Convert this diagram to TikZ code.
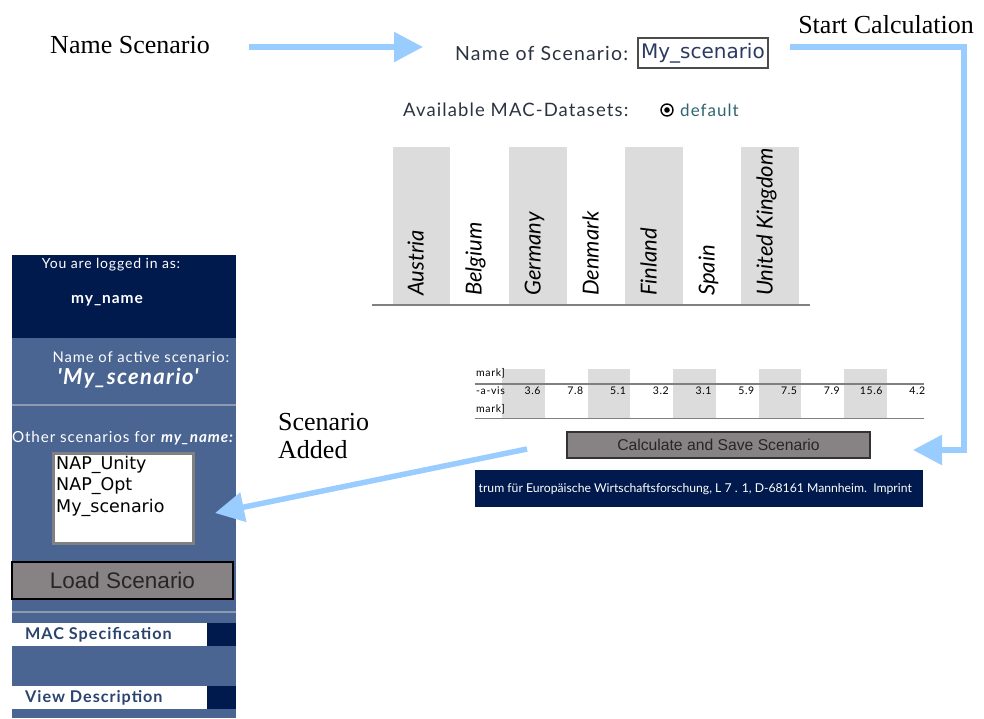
\documentclass[tikz,border=0pt]{standalone}
\usepackage{fontspec}
\setmainfont{Liberation Serif}
\newfontfamily\gill{Lato}[LetterSpace=6.0]
\newfontfamily\gillc{Lato}
\newfontfamily\arialf{Liberation Sans}
\newfontfamily\dejavu{DejaVu Sans}
\usetikzlibrary{arrows.meta}
\definecolor{arrowblue}{HTML}{99CCFF}
\definecolor{navy}{HTML}{001A4D}
\definecolor{panelblue}{HTML}{4A6592}
\definecolor{sepgray}{HTML}{8E9AB0}
\definecolor{colgray}{HTML}{DCDCDC}
\definecolor{btngray}{HTML}{878283}
\definecolor{txtdark}{HTML}{2B3340}
\definecolor{tealtxt}{HTML}{2E6470}
\definecolor{macblue}{HTML}{2A4470}
\definecolor{fieldtxt}{HTML}{2A3A60}
\tikzset{
  bigarrow/.style={draw=arrowblue, line width=5.5pt, line join=miter, -{Triangle[length=29pt,width=29pt]}},
  serifl/.style={font=\fontsize{26}{28}\selectfont, inner sep=0pt},
  shot/.style={font=\gill\fontsize{18.5}{20}\selectfont, text=txtdark, inner sep=0pt},
  paneltxt/.style={font=\gill\fontsize{14}{16}\selectfont, text=white, inner sep=0pt},
  country/.style={font=\gillc\itshape\fontsize{22}{24}\selectfont, rotate=90, anchor=west, inner sep=0pt, text height=0.72em, text depth=0.2em},
  tabtxt/.style={font=\gill\fontsize{10.5}{11}\selectfont, inner sep=0pt, text=black},
  listtxt/.style={font=\dejavu\fontsize{17.5}{20}\selectfont, anchor=west, inner sep=0pt},
  macbar/.style={font=\gill\bfseries\fontsize{16.2}{18}\selectfont, text=macblue, anchor=west, inner sep=0pt},
}
\begin{document}
\begin{tikzpicture}[x=1pt,y=-1pt]
\useasboundingbox (0,0) rectangle (984,718);
% ---------- left panel ----------
\fill[navy] (12,255) rectangle (236,338);
\fill[panelblue] (12,338) rectangle (236,718);
\draw[sepgray, line width=2pt] (12,405) -- (236,405);
\draw[sepgray, line width=2pt] (12,612) -- (236,612);
\node[paneltxt] (logged) at (111,265) {You are logged in as:};
\node[paneltxt, font=\gill\bfseries\fontsize{15.5}{17}\selectfont] (user) at (107,301) {my\_name};
\node[paneltxt, font=\gill\fontsize{14.8}{16}\selectfont] (actlbl) at (141,357) {Name of active scenario:};
\node[paneltxt, font=\gill\bfseries\itshape\fontsize{22}{24}\selectfont] (actname) at (128,378) {'My\_scenario'};
\node[paneltxt, font=\gill\fontsize{15.2}{17}\selectfont] (other) at (123,438) {Other scenarios for \textbf{\textit{my\_name:}}};
\node[draw=gray, line width=2.5pt, fill=white, minimum width=140pt, minimum height=90pt, anchor=north west, inner sep=0pt] (list) at (52,452) {};
\node[listtxt] (it1) at (56,465) {NAP\_Unity};
\node[listtxt] (it2) at (56,486) {NAP\_Opt};
\node[listtxt] (it3) at (56,508) {My\_scenario};
\node[draw=black, line width=2pt, fill=btngray, minimum width=221pt, minimum height=37pt, inner sep=0pt,
      font=\arialf\fontsize{22.5}{24}\selectfont, text=black!85] (load) at (122.5,580.5) {Load Scenario};
\fill[white] (12,623) rectangle (207,646);
\fill[navy] (207,623) rectangle (236,646);
\node[macbar] (macspec) at (25,635) {MAC Specification};
\fill[white] (12,686) rectangle (207,709);
\fill[navy] (207,686) rectangle (236,709);
\node[macbar] (viewdesc) at (25,698) {View Description};
% ---------- main screen ----------
\node[shot, anchor=west, font=\gill\fontsize{19.5}{21}\selectfont] (nameof) at (455,53) {Name of Scenario:};
\node[draw=black!70, line width=2pt, minimum width=130pt, minimum height=30pt, text width=124pt, align=left, inner sep=3pt,
      font=\dejavu\fontsize{20}{22}\selectfont, text=fieldtxt] (field) at (703,53) {My\_scenario};
\node[shot, anchor=west] (avail) at (403,110) {Available MAC-Datasets:};
\node[draw=black, line width=1.4pt, circle, minimum size=12pt, inner sep=0pt] (radio) at (667,110) {};
\fill[black] (radio.center) circle (2.8pt);
\node[shot, anchor=west, text=tealtxt, font=\gill\fontsize{17}{19}\selectfont] (default) at (680,110) {default};
% country columns
\fill[colgray] (393,147) rectangle (450,305);
\fill[colgray] (509,147) rectangle (567,305);
\fill[colgray] (625,147) rectangle (683,305);
\fill[colgray] (741,147) rectangle (799,305);
\draw[gray, line width=2pt] (372,305) -- (810,305);
\node[country] (austria) at (421,296) {Austria};
\node[country] (belgium) at (479,296) {Belgium};
\node[country] (germany) at (538,296) {Germany};
\node[country] (denmark) at (596,296) {Denmark};
\node[country] (finland) at (654,296) {Finland};
\node[country] (spain) at (712,296) {Spain};
\node[country] (uk) at (770,296) {United Kingdom};
% table
\begin{scope}
\clip (475,360) rectangle (924,425);
\foreach \i in {0,2,4,6,8} {
  \fill[colgray] ({502+42.75*\i},369) rectangle ({502+42.75*(\i+1)},418);
}
\draw[gray, line width=2pt] (475,383.5) -- (924,383.5);
\draw[gray, line width=1.5pt] (475,418.5) -- (924,418.5);
\foreach \v [count=\k from 1] in {3.6,7.8,5.1,3.2,3.1,5.9,7.5,7.9,15.6,4.2} {
  \node[tabtxt, anchor=east] (num\k) at ({502+42.75*\k-4},391) {\v};
}
\node[tabtxt, anchor=west] (row1) at (476,373) {mark]};
\node[tabtxt, anchor=west] (row2) at (476,391) {-a-vis};
\node[tabtxt, anchor=west] (row3) at (476,409) {mark]};
\end{scope}
\node[draw=black!80, line width=1.5pt, fill=btngray, minimum width=303pt, minimum height=26pt, inner sep=0pt,
      font=\arialf\fontsize{15.7}{17}\selectfont, text=black!85] (calc) at (718.5,445) {Calculate and Save Scenario};
\fill[navy] (475,470) rectangle (923,507);
\begin{scope}
\clip (475,470) rectangle (923,507);
\node[font=\gillc\fontsize{12.2}{14}\selectfont, text=white, anchor=east, inner sep=0pt] (footer) at (912,489)
  {trum für Europäische Wirtschaftsforschung, L 7 . 1, D-68161 Mannheim.\ \ Imprint};
\end{scope}
% ---------- annotations ----------
\node[serifl] (nmscen) at (130,45) {Name Scenario};
\node[serifl] (startc) at (886,25) {Start Calculation};
\node[serifl, anchor=west, align=left] (added) at (278,436) {Scenario\\[-0.2pt]Added};
\coordinate (a1s) at (249,47);
\coordinate (a1e) at (423,47);
\coordinate (a2s) at (790,47);
\coordinate (a2m) at (964,47);
\coordinate (a2n) at (964,450);
\coordinate (a2e) at (913,450);
\coordinate (a3s) at (527,449);
\coordinate (a3e) at (215,513);
\draw[bigarrow] (a1s) -- (a1e);
\draw[bigarrow] (a2s) -- (a2m) -- (a2n) -- (a2e);
\draw[bigarrow] (a3s) -- (a3e);
\end{tikzpicture}
\end{document}
